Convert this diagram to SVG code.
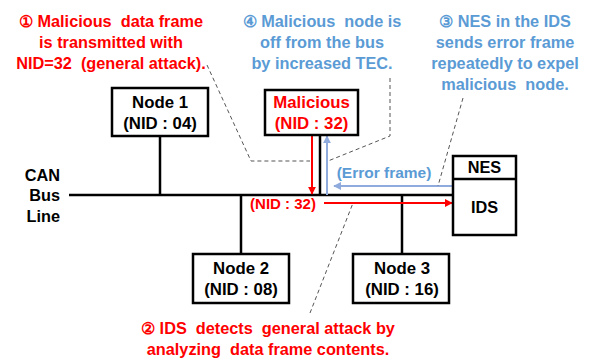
<svg xmlns="http://www.w3.org/2000/svg" width="593" height="359" viewBox="0 0 593 359">
<style>
text{font-family:"Liberation Sans",Arial,sans-serif;font-weight:bold;font-size:16.3px;text-anchor:middle;white-space:pre}
.red{fill:#FF0000}
.blue{fill:#5B9BD5}
.blk{fill:#000}
.nd{font-size:16.8px}
.box{fill:#fff;stroke:#000;stroke-width:2.5}
.wire{stroke:#000;stroke-width:2.5;fill:none}
.dash{stroke:#555;stroke-width:1;stroke-dasharray:4 3;fill:none}
</style>
<defs>
<marker id="ar" viewBox="0 0 10 10" refX="9" refY="5" markerWidth="4" markerHeight="4" orient="auto"><path d="M0,0L10,5L0,10z" fill="#FF0000"/></marker>
<marker id="ab" viewBox="0 0 10 10" refX="9" refY="5" markerWidth="4" markerHeight="4" orient="auto"><path d="M0,0L10,5L0,10z" fill="#8FAADC"/></marker>
</defs>
<g id="connectors">
<line class="wire" x1="69" y1="195" x2="453" y2="195"/>
<line class="wire" x1="160" y1="136" x2="160" y2="195"/>
<line class="wire" x1="241" y1="195" x2="241" y2="254"/>
<line class="wire" x1="402" y1="195" x2="402" y2="254"/>
<line class="wire" x1="320" y1="135" x2="320" y2="195"/>
<line x1="312" y1="135" x2="312" y2="194" stroke="#FF0000" stroke-width="2" marker-end="url(#ar)"/>
<line x1="327" y1="195" x2="327" y2="136" stroke="#8FAADC" stroke-width="2" marker-end="url(#ab)"/>
<line x1="453" y1="186" x2="334" y2="186" stroke="#8FAADC" stroke-width="2" marker-end="url(#ab)"/>
<line x1="324" y1="203" x2="452" y2="203" stroke="#FF0000" stroke-width="2" marker-end="url(#ar)"/>
<polyline class="dash" points="207,65 251,161 310,161"/>
<polyline class="dash" points="390,78 390,136 328,161"/>
<polyline class="dash" points="463,98 438,186"/>
<polyline class="dash" points="310,313 353,203"/>
</g>
<g id="node1">
<rect class="box" x="112" y="88" width="96" height="48"/>
<text class="blk nd" x="160" y="108">Node 1</text>
<text class="blk nd" x="160" y="129">(NID : 04)</text>
</g>
<g id="malicious">
<rect class="box" x="265" y="90" width="93" height="45"/>
<text class="red nd" x="311.5" y="108">Malicious</text>
<text class="red nd" x="311.5" y="129">(NID : 32)</text>
</g>
<g id="node2">
<rect class="box" x="193" y="254" width="96" height="49"/>
<text class="blk nd" x="241" y="274">Node 2</text>
<text class="blk nd" x="241" y="295">(NID : 08)</text>
</g>
<g id="node3">
<rect class="box" x="353" y="254" width="96" height="49"/>
<text class="blk nd" x="402" y="274">Node 3</text>
<text class="blk nd" x="402" y="295">(NID : 16)</text>
</g>
<g id="ids">
<rect class="box" x="453" y="156" width="63" height="79"/>
<line class="wire" x1="453" y1="179" x2="516" y2="179"/>
<text class="blk" x="484.5" y="173">NES</text>
<text class="blk" x="484.5" y="213">IDS</text>
</g>
<g id="labels">
<text class="blk" x="60" y="181" style="text-anchor:end">CAN</text>
<text class="blk" x="60" y="201" style="text-anchor:end">Bus</text>
<text class="blk" x="60" y="222" style="text-anchor:end">Line</text>
<text class="red" x="283" y="209" style="font-size:15px">(NID : 32)</text>
<text class="blue" x="384" y="178" style="font-size:15.5px">(Error frame)</text>
<text class="red" x="111" y="27">① Malicious  data frame</text>
<text class="red" x="111" y="48">is transmitted with</text>
<text class="red" x="111" y="69">NID=32  (general attack).</text>
<text class="blue" x="322" y="27">④ Malicious  node is</text>
<text class="blue" x="322" y="48">off from the bus</text>
<text class="blue" x="322" y="69">by increased TEC.</text>
<text class="blue" x="505" y="27">③ NES in the IDS</text>
<text class="blue" x="505" y="48">sends error frame</text>
<text class="blue" x="505" y="69">repeatedly to expel</text>
<text class="blue" x="505" y="90">malicious  node.</text>
<text class="red" x="268" y="334">② IDS  detects  general attack by</text>
<text class="red" x="268" y="355">analyzing  data frame contents.</text>
</g>
</svg>
